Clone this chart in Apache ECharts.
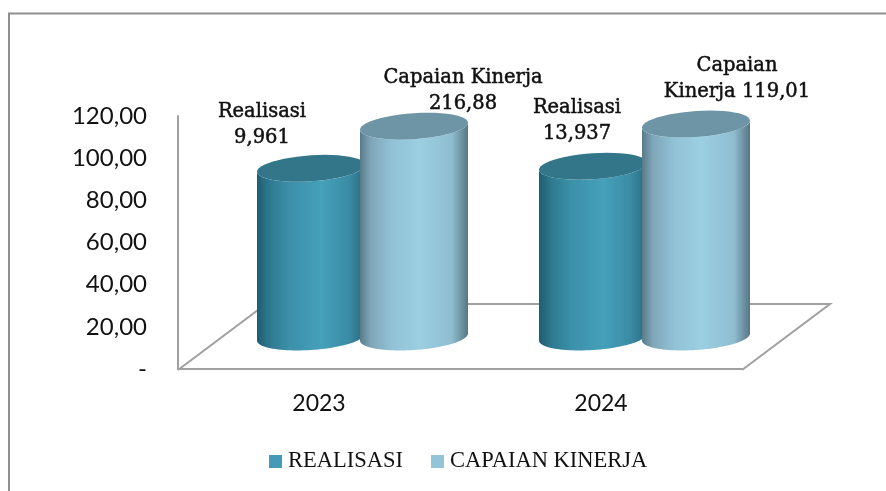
<!DOCTYPE html>
<html>
<head>
<meta charset="utf-8">
<title>Realisasi dan Capaian Kinerja</title>
<script src="https://cdn.jsdelivr.net/npm/echarts@6/dist/echarts.min.js"></script>
<style>
    html, body { margin: 0; padding: 0; background: #fff; }
    #chart { width: 886px; height: 491px; }
</style>
</head>
<body>
<div id="chart"></div>
<script>
// values (axis scale, not the printed labels)
const years = ['2023', '2024'];
const realisasi = [80, 81];
const capaian = [100, 101];
const yTickLabels = ['-', '20,00', '40,00', '60,00', '80,00', '100,00', '120,00'];
const realisasiLabels = ['Realisasi\n9,961', 'Realisasi\n13,937'];
const capaianLabels = ['Capaian Kinerja\n216,88', 'Capaian\nKinerja 119,01'];

// layout of the fake 3d box, px
const FLOOR_DX = 88;
const FLOOR_DY = 66;
const BAR_RATIO = 108 / 282;
const RY = 13;
const TILT = 3.5;
const realisasiLabelShift = [[-49, -43], [-16, -45]];
const capaianLabelShift = [[49, -35], [41, -45]];

const serifFont = '"DejaVu Serif", serif';
const sansFont = 'Lato, sans-serif';

function ellipsePoints(cx, cy, rx, from, to) {
    const pts = [];
    for (let i = 0; i <= 48; i++) {
        const t = from + (to - from) * i / 48;
        pts.push([cx + rx * Math.cos(t), cy + RY * Math.sin(t) - TILT * Math.cos(t)]);
    }
    return pts;
}

function cylinder(bandShift, stops, topColor, labels, shifts) {
    return function (params, api) {
        const idx = api.value(0);
        const top = api.coord([idx, api.value(1)]);
        const base = api.coord([idx, 0]);
        const band = api.size([1, 0])[0];
        const cx = top[0] + band * bandShift;
        const rx = band * BAR_RATIO / 2;
        // cylinders stand halfway back on the floor
        const lift = FLOOR_DY / 2 - 1;
        const topY = top[1] - lift;
        const baseY = base[1] - lift;

        // body: bottom half of base ellipse + top rim
        const body = ellipsePoints(cx, baseY, rx, 0, Math.PI)
            .concat(ellipsePoints(cx, topY, rx, Math.PI, 0));

        return {
            type: 'group',
            children: [{
                type: 'polygon',
                shape: { points: body },
                style: {
                    fill: new echarts.graphic.LinearGradient(0, 0, 1, 0, stops)
                }
            }, {
                type: 'polygon',
                shape: { points: ellipsePoints(cx, topY, rx, 0, Math.PI * 2) },
                style: { fill: topColor }
            }, {
                type: 'text',
                z2: 10,
                x: cx + shifts[idx][0],
                y: topY + shifts[idx][1],
                style: {
                    text: labels[idx],
                    fill: '#111',
                    stroke: '#111',
                    lineWidth: 0.5,
                    fontFamily: serifFont,
                    fontSize: 19.5,
                    lineHeight: 26,
                    align: 'center',
                    verticalAlign: 'middle'
                }
            }]
        };
    };
}

const realisasiStops = [
    { offset: 0, color: '#1f5d70' },
    { offset: 0.12, color: '#2f7a91' },
    { offset: 0.3, color: '#3c90aa' },
    { offset: 0.6, color: '#45a0ba' },
    { offset: 0.85, color: '#3b8ba5' },
    { offset: 1, color: '#276a7e' }
];
const capaianStops = [
    { offset: 0, color: '#587a88' },
    { offset: 0.1, color: '#7fa6b9' },
    { offset: 0.3, color: '#92c2d6' },
    { offset: 0.55, color: '#9bcfe2' },
    { offset: 0.85, color: '#8fbdd0' },
    { offset: 1, color: '#557783' }
];

const chart = echarts.init(document.getElementById('chart'), null, { renderer: 'canvas' });
chart.setOption({
    animation: false,
    backgroundColor: '#fff',
    grid: { left: 178, right: 144, top: 116, height: 253 },
    legend: {
        data: ['REALISASI', 'CAPAIAN KINERJA'],
        left: 269,
        top: 450,
        padding: 0,
        icon: 'rect',
        itemWidth: 13,
        itemHeight: 13,
        itemGap: 28,
        selectedMode: false,
        textStyle: { fontFamily: '"Liberation Serif", serif', fontSize: 22.5, color: '#111', padding: [0, 0, 0, 1] }
    },
    xAxis: {
        type: 'category',
        data: years,
        axisLine: { onZero: false, lineStyle: { color: '#a0a0a0', width: 2 } },
        axisTick: { show: false },
        axisLabel: { fontFamily: sansFont, fontSize: 23, color: '#111', margin: 23 }
    },
    yAxis: {
        type: 'value',
        min: 0,
        max: 120,
        interval: 20,
        splitLine: { show: false },
        axisLine: { show: true, lineStyle: { color: '#a0a0a0', width: 2 } },
        axisTick: { show: false },
        axisLabel: {
            fontFamily: sansFont,
            fontSize: 24,
            color: '#111',
            margin: 31,
            padding: [3, 0, 0, 0],
            formatter: function (value, index) {
                return yTickLabels[index];
            }
        }
    },
    graphic: [{
        type: 'polyline',
        silent: true,
        shape: { points: [[9, 491], [9, 13.5], [886, 13.5]] },
        style: { stroke: '#8f8f8f', lineWidth: 2, fill: null }
    }],
    series: [{
        // floor lines, drawn behind the cylinders
        name: 'floor',
        type: 'custom',
        silent: true,
        data: [0],
        renderItem: function (params) {
            const g = params.coordSys;
            const bottom = g.y + g.height + 1;
            return {
                type: 'polyline',
                shape: {
                    points: [
                        [g.x, bottom],
                        [g.x + FLOOR_DX, bottom - FLOOR_DY],
                        [g.x + g.width + FLOOR_DX, bottom - FLOOR_DY],
                        [g.x + g.width, bottom]
                    ]
                },
                style: { stroke: '#a0a0a0', lineWidth: 2, fill: null }
            };
        }
    }, {
        name: 'REALISASI',
        type: 'custom',
        silent: true,
        itemStyle: { color: '#459ab5' },
        encode: { x: 0, y: 1 },
        data: realisasi.map((v, i) => [i, v]),
        renderItem: cylinder(-8 / 282, realisasiStops, '#337689', realisasiLabels, realisasiLabelShift)
    }, {
        name: 'CAPAIAN KINERJA',
        type: 'custom',
        silent: true,
        itemStyle: { color: '#94c4d8' },
        encode: { x: 0, y: 1 },
        data: capaian.map((v, i) => [i, v]),
        renderItem: cylinder(95 / 282, capaianStops, '#6d95a6', capaianLabels, capaianLabelShift)
    }]
});
</script>
</body>
</html>
